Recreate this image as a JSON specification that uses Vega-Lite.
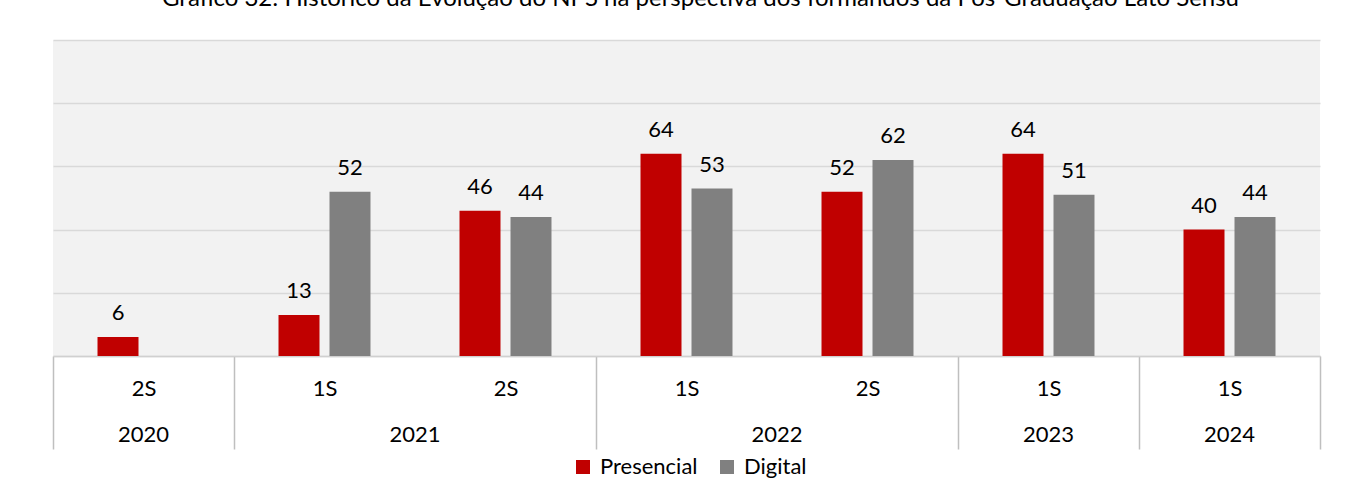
{
  "$schema": "https://vega.github.io/schema/vega-lite/v6.json",
  "width": 1267,
  "height": 316,
  "autosize": {"type": "none"},
  "padding": {"left": 53, "top": 40, "right": 31, "bottom": 126},
  "background": "white",
  "title": {
    "text": "Gráfico 32: Histórico da Evolução do NPS na perspectiva dos formandos da Pós-Graduação Lato Sensu",
    "font": "Lato", "fontSize": 24, "fontWeight": "normal", "color": "#000000",
    "baseline": "bottom", "offset": 5, "anchor": "middle", "dx": 14
  },
  "data": {
    "values": [
      {"periodo": "2020-2S", "serie": "Presencial", "valor": 6},
      {"periodo": "2021-1S", "serie": "Presencial", "valor": 13},
      {"periodo": "2021-1S", "serie": "Digital", "valor": 52},
      {"periodo": "2021-2S", "serie": "Presencial", "valor": 46},
      {"periodo": "2021-2S", "serie": "Digital", "valor": 44},
      {"periodo": "2022-1S", "serie": "Presencial", "valor": 64},
      {"periodo": "2022-1S", "serie": "Digital", "valor": 53},
      {"periodo": "2022-2S", "serie": "Presencial", "valor": 52},
      {"periodo": "2022-2S", "serie": "Digital", "valor": 62},
      {"periodo": "2023-1S", "serie": "Presencial", "valor": 64},
      {"periodo": "2023-1S", "serie": "Digital", "valor": 51},
      {"periodo": "2024-1S", "serie": "Presencial", "valor": 40},
      {"periodo": "2024-1S", "serie": "Digital", "valor": 44}
    ]
  },
  "config": {"view": {"fill": "#f2f2f2", "stroke": null}, "font": "Lato"},
  "encoding": {
    "xOffset": {"field": "serie", "type": "nominal", "sort": ["Presencial", "Digital"], "scale": {"domain": ["Presencial", "Digital"], "paddingInner": 0.196, "paddingOuter": 0.873}},
    "y": {
      "field": "valor", "type": "quantitative",
      "scale": {"domain": [0, 100], "nice": false},
      "axis": {"title": null, "grid": true, "gridColor": "#d9d9d9", "gridWidth": 1.5, "domain": false, "ticks": false, "labels": false, "values": [0, 20, 40, 60, 80, 100]}
    }
  },
  "layer": [
    {
      "mark": {"type": "bar"},
      "encoding": {
        "x": {
          "field": "periodo", "type": "nominal", "sort": null,
          "scale": {"paddingInner": 0, "paddingOuter": 0},
          "axis": {
            "title": null, "orient": "bottom", "labelAngle": 0,
            "labelExpr": "split(datum.value, '-')[1]",
            "labelFontSize": 22, "labelFont": "Lato", "labelColor": "#000000", "labelOverlap": false,
            "ticks": true, "tickBand": "extent", "tickSize": 93, "tickWidth": 1.5,
            "tickColor": {"condition": {"test": "datum.value == '2021-1S' || datum.value == '2022-1S'", "value": "transparent"}, "value": "#bfbfbf"},
            "labelPadding": -71,
            "domainColor": "#d0d0d0", "domainWidth": 1.5, "grid": false
          }
        },
        "color": {
          "field": "serie", "type": "nominal",
          "scale": {"domain": ["Presencial", "Digital"], "range": ["#c00000", "#808080"]},
          "legend": {
            "title": null, "orient": "none", "legendX": 519, "legendY": 416, "direction": "horizontal",
            "symbolType": "square", "symbolSize": 196, "symbolStrokeWidth": 0, "symbolOpacity": 1,
            "labelFontSize": 22, "labelFont": "Lato", "labelColor": "#000000",
            "columnPadding": 18, "labelOffset": 6
          }
        }
      }
    },
    {
      "mark": {"type": "text", "baseline": "alphabetic", "dy": -17, "fontSize": 22, "font": "Lato", "color": "#000000"},
      "encoding": {
        "x": {
          "field": "periodo", "type": "nominal", "sort": null,
          "scale": {"paddingInner": 0, "paddingOuter": 0},
          "axis": {
            "title": null, "orient": "bottom", "ticks": false, "domain": false, "grid": false, "labelAngle": 0,
            "labelExpr": "datum.value === '2020-2S' ? '2020' : datum.value === '2021-1S' ? '2021' : datum.value === '2022-1S' ? '2022' : datum.value === '2023-1S' ? '2023' : datum.value === '2024-1S' ? '2024' : ''",
            "labelOffset": {"condition": {"test": "datum.value === '2021-1S' || datum.value === '2022-1S'", "value": 90.5}, "value": 0},
            "labelPadding": 68, "labelFontSize": 22, "labelFont": "Lato", "labelColor": "#000000", "labelOverlap": false
          }
        },
        "text": {"field": "valor", "type": "quantitative"}
      }
    }
  ],
  "resolve": {"scale": {"x": "independent"}, "axis": {"x": "independent"}}
}
